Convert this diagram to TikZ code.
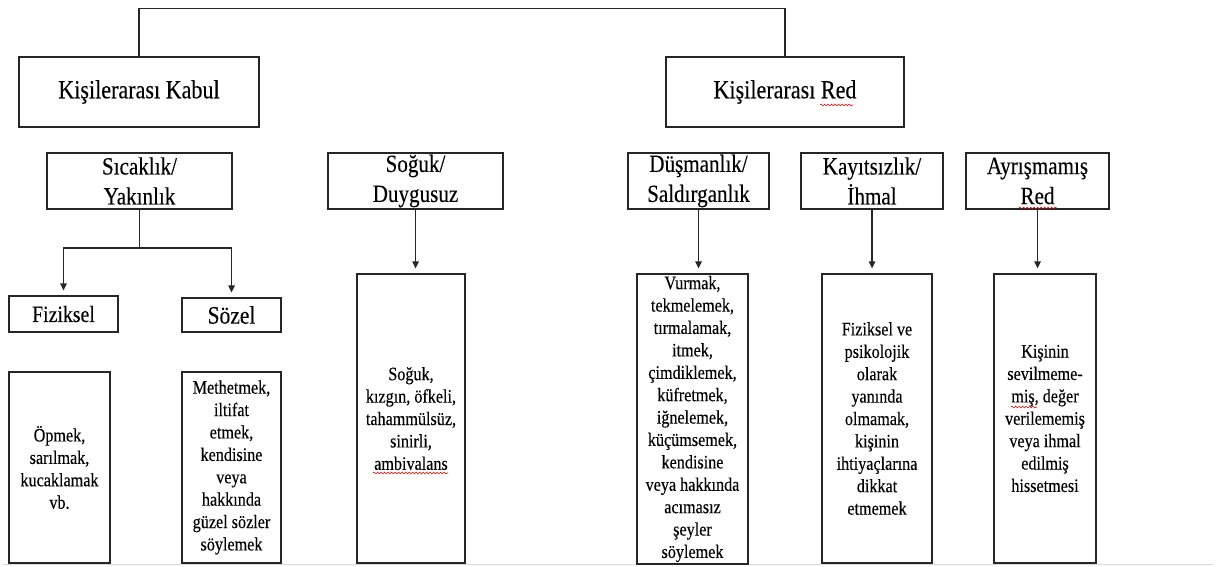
\documentclass[tikz,border=0pt]{standalone}
\usepackage{fontspec}
\setmainfont[FakeStretch=0.85,FakeBold=0.2]{Liberation Serif}
\usetikzlibrary{arrows.meta,decorations.pathmorphing}
\begin{document}
\begin{tikzpicture}[x=1pt,y=-1pt,
  box/.style={draw=black!85, line width=1.3pt, inner sep=0pt, align=center},
  conn/.style={draw=black!85, line width=1.3pt},
  arr/.style={draw=black!85, line width=1.3pt, -{Triangle[length=7pt,width=6.5pt]}, shorten >=5pt},
  topfont/.style={font=\fontsize{26}{30}\selectfont},
  hdrfont/.style={font=\fontsize{24.8}{30}\selectfont},
  txtfont/.style={font=\fontsize{19}{22.4}\selectfont},
  wavy/.style={draw=red!85!black, line width=0.6pt, decorate, decoration={snake, amplitude=0.9pt, segment length=3.5pt}}
]
\useasboundingbox (0,0) rectangle (1225,566);
\fill[white] (0,0) rectangle (1225,566);
\draw[gray!30, line width=1.5pt] (3,564.5) -- (1213,564.5);

% top level
\node[box, topfont, minimum width=240pt, minimum height=70pt] (kabul) at (139,92) {Kişilerarası Kabul};
\node[box, topfont, minimum width=238pt, minimum height=70pt] (red) at (785,92) {Kişilerarası Red};

% second level
\node[box, hdrfont, minimum width=185pt, minimum height=56pt] (sicak) at (139.5,181) {Sıcaklık/\\Yakınlık};
\node[box, hdrfont, minimum width=175pt, minimum height=56pt] (soguk) at (415.5,181) {Soğuk/\\Duygusuz};
\node[box, hdrfont, minimum width=141pt, minimum height=56pt] (dusman) at (698.5,181) {Düşmanlık/\\Saldırganlık};
\node[box, hdrfont, minimum width=142pt, minimum height=56pt] (kayit) at (872,181) {Kayıtsızlık/\\İhmal};
\node[box, hdrfont, minimum width=143pt, minimum height=56pt] (ayris) at (1037.5,181) {Ayrışmamış\\Red};

% third level (left)
\node[box, font=\fontsize{23.3}{27}\selectfont, minimum width=109pt, minimum height=36pt] (fiz) at (63.5,314) {Fiziksel};
\node[box, font=\fontsize{25.3}{29}\selectfont, minimum width=99pt, minimum height=34pt] (soz) at (231.5,315) {Sözel};

% content boxes
\node[box, txtfont, minimum width=101pt, minimum height=191pt] (c1) at (59.5,467.5) {Öpmek,\\sarılmak,\\kucaklamak\\vb.};
\node[box, txtfont, minimum width=99pt, minimum height=191pt] (c2) at (231.5,467.5) {Methetmek,\\iltifat\\etmek,\\kendisine\\veya\\hakkında\\güzel sözler\\söylemek};
\node[box, txtfont, minimum width=108pt, minimum height=289pt] (c3) at (411,418.5) {Soğuk,\\kızgın, öfkeli,\\tahammülsüz,\\sinirli,\\ambivalans};
\node[box, txtfont, minimum width=111pt, minimum height=290pt] (c4) at (692.5,419) {Vurmak,\\tekmelemek,\\tırmalamak,\\itmek,\\çimdiklemek,\\küfretmek,\\iğnelemek,\\küçümsemek,\\kendisine\\veya hakkında\\acımasız\\şeyler\\söylemek};
\node[box, txtfont, minimum width=110pt, minimum height=289pt] (c5) at (877,418.5) {Fiziksel ve\\psikolojik\\olarak\\yanında\\olmamak,\\kişinin\\ihtiyaçlarına\\dikkat\\etmemek};
\node[box, txtfont, minimum width=102pt, minimum height=289pt] (c6) at (1045,418.5) {Kişinin\\sevilmeme-\\miş, değer\\verilememiş\\veya ihmal\\edilmiş\\hissetmesi};

% connectors
\coordinate (topl) at (139,8.5);
\draw[conn] (kabul.north) -- (kabul.north |- topl) -| (red.north);

\coordinate (split) at (139.5,248);
\draw[conn] (sicak.south) -- (split);
\draw[arr] (split) -| (fiz.north);
\draw[arr] (split) -| (soz.north);

\draw[arr] (soguk.south) -- (soguk.south |- c3.north);
\draw[arr] (dusman.south) -- (dusman.south |- c4.north);
\draw[arr] (kayit.south) -- (kayit.south |- c5.north);
\draw[arr] (ayris.south) -- (ayris.south |- c6.north);

% spell-check underlines
\draw[wavy] (820,105) -- (853,105);
\draw[wavy] (1019,208) -- (1057,208);
\draw[wavy] (373,473) -- (448,473);
\draw[wavy] (1011,407) -- (1037,407);
\end{tikzpicture}
\end{document}
